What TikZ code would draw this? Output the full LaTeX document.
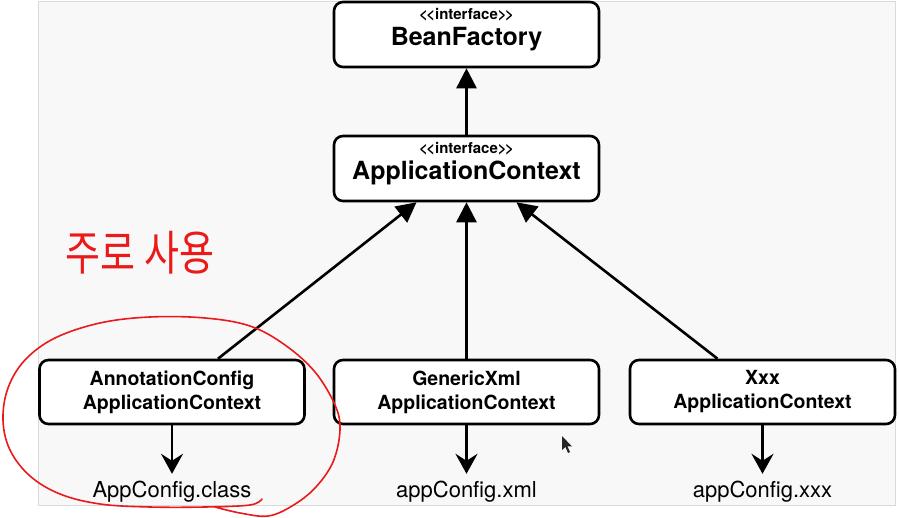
\documentclass[tikz,border=0pt]{standalone}
\usepackage{fontspec}
\setmainfont{TeX Gyre Heros}
\newfontfamily\krfont{Noto Sans CJK KR}
\usetikzlibrary{arrows.meta,calc}
\definecolor{panel}{RGB}{248,248,248}
\definecolor{panelline}{RGB}{218,218,218}
\definecolor{pen}{RGB}{235,25,25}
\newcommand{\ifcline}{{\bfseries\fontsize{15}{15}\selectfont <\kern-1.5pt<interface>\kern-1.5pt>}}
\newcommand{\bigname}[1]{{\bfseries\fontsize{25}{25.5}\selectfont #1\rule[-15pt]{0pt}{15pt}}}
\begin{document}
\begin{tikzpicture}[x=1pt,y=-1pt,
  ibox/.style={draw, line width=2.6pt, rounded corners=9pt, fill=white,
    minimum width=265pt, minimum height=65pt, align=center, inner sep=0pt,
    font=\fontsize{25}{25.5}\selectfont},
  cbox/.style={draw, line width=2.6pt, rounded corners=9pt, fill=white,
    minimum width=265pt, minimum height=64pt, align=center, inner sep=0pt,
    font=\bfseries\fontsize{19.5}{24}\selectfont},
  up/.style={line width=2.6pt, -{Triangle[width=20pt,length=20pt]}},
  down/.style={line width=2.6pt, shorten >=6pt, -{Stealth[width=22pt,length=20pt,inset=7pt]}},
  lbl/.style={font=\fontsize{22}{24}\selectfont, text height=16pt, text depth=5pt, inner sep=1pt}
]
\useasboundingbox (0,0) rectangle (900,518);
\fill[panel,draw=panelline,line width=1pt] (38.5,1.5) rectangle (895.5,505);

\node[ibox] (bf) at (466.5,34.5) {\ifcline\\\bigname{BeanFactory}};
\node[ibox] (ctx) at (466.5,168.5) {\ifcline\\\bigname{ApplicationContext}};
\node[cbox] (anno) at (172,392) {AnnotationConfig\\ApplicationContext};
\node[cbox] (gen) at (466.5,392) {GenericXml\\ApplicationContext};
\node[cbox] (xxx) at (762.5,392) {Xxx\\ApplicationContext};
\node[lbl] (l1) at (172,491.5) {AppConfig.class};
\node[lbl] (l2) at (466.5,491.5) {appConfig.xml};
\node[lbl] (l3) at (762.5,491.5) {appConfig.xxx};

\draw[up] (ctx.north) -- (bf.south);
\draw[up] ($(anno.north)+(46,0)$) -- ($(ctx.south)+(-50,0)$);
\draw[up] (gen.north) -- (ctx.south);
\draw[up] ($(xxx.north)+(-45,0)$) -- ($(ctx.south)+(50,0)$);
\draw[down] (anno.south) -- (l1.north);
\draw[down] (gen.south) -- (l2.north);
\draw[down] (xxx.south) -- (l3.north);

\fill[black!85] (562,436) -- (562,450) -- (565.5,447) -- (568,453) -- (570,452) -- (567.5,446.5) -- (572,446.5) -- cycle;

\node[text=pen, font=\krfont\fontsize{38}{40}\selectfont, yscale=1.25] (note) at (140,253) {주로 사용};
\draw[pen,line width=1.6pt,line cap=round,line join=round] plot[smooth,tension=0.6] coordinates {
 (262,499) (250,505) (205,507) (150,507) (100,504) (60,494) (30,476) (10,450) (3,420) (8,388)
 (25,360) (55,338) (100,323) (150,317) (205,318) (250,326) (285,345) (315,372) (335,405)
 (340,430) (333,462) (315,488) (292,506) (268,516) (240,513) (215,507)};
\end{tikzpicture}
\end{document}
